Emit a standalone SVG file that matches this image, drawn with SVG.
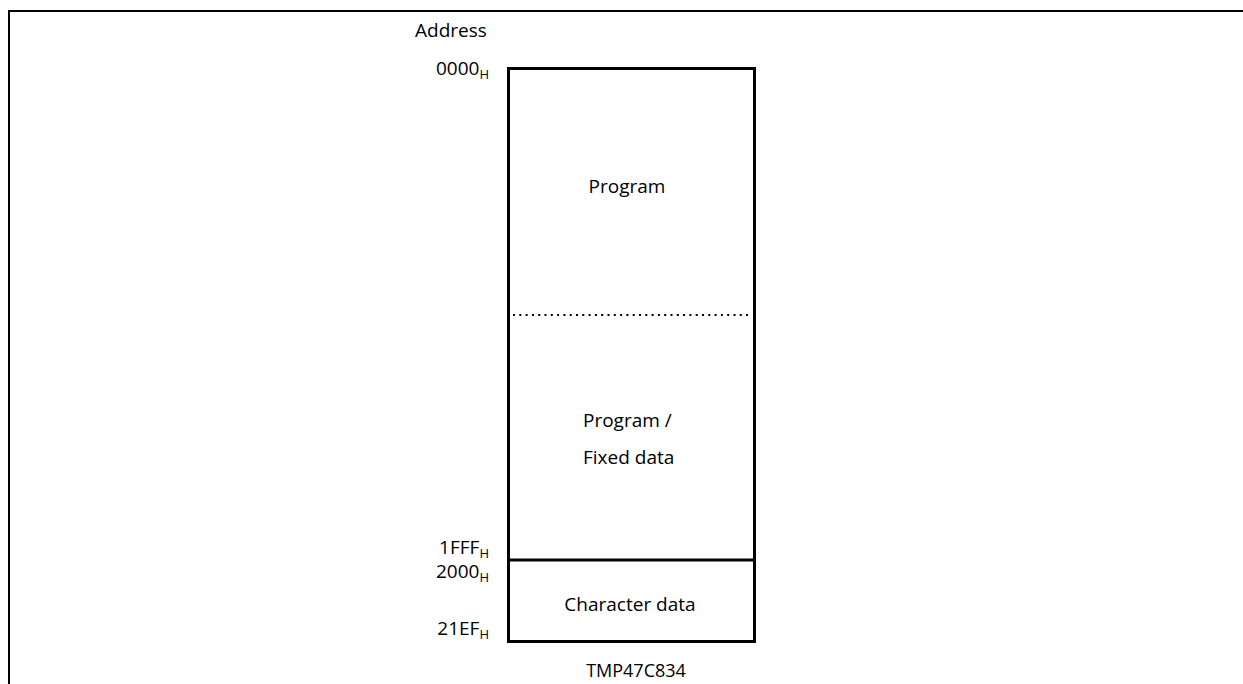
<svg xmlns="http://www.w3.org/2000/svg" width="1243" height="684" viewBox="0 0 1243 684">
  <style>
    .lbl { font-family: "Open Sans", "Liberation Sans", sans-serif; font-size: 19px; fill: #000; }
    .sub { font-size: 13px; }
    .frame { fill: none; stroke: #000; stroke-width: 2; }
    .box { fill: #fff; stroke: #000; stroke-width: 3; }
    .div { stroke: #000; stroke-width: 3; }
    .dot { stroke: #000; stroke-width: 2; stroke-dasharray: 2 4.3; }
  </style>
  <rect width="1243" height="684" fill="#fff"/>

  <!-- page frame (top and left rules) -->
  <path class="frame" d="M9 684 V11 H1243"/>

  <text class="lbl" x="415" y="37">Address</text>

  <!-- memory map -->
  <g id="memory-map">
    <rect class="box" x="508.5" y="68.5" width="246" height="573"/>
    <line class="dot" x1="513" y1="315" x2="752" y2="315"/>
    <line class="div" x1="507" y1="560" x2="756" y2="560"/>
  </g>

  <g id="region-program">
    <text class="lbl" x="627" y="193" text-anchor="middle">Program</text>
  </g>

  <g id="region-fixed-data">
    <text class="lbl" x="583" y="427">Program /</text>
    <text class="lbl" x="583" y="464">Fixed data</text>
  </g>

  <g id="region-character-data">
    <text class="lbl" x="630" y="611" text-anchor="middle">Character data</text>
  </g>

  <!-- address labels -->
  <g id="addresses">
    <text class="lbl" x="489" y="75" text-anchor="end">0000<tspan class="sub" dy="4">H</tspan></text>
    <text class="lbl" x="489" y="554" text-anchor="end">1FFF<tspan class="sub" dy="4">H</tspan></text>
    <text class="lbl" x="489" y="578" text-anchor="end">2000<tspan class="sub" dy="4">H</tspan></text>
    <text class="lbl" x="489" y="635" text-anchor="end">21EF<tspan class="sub" dy="4">H</tspan></text>
  </g>

  <text class="lbl" x="636" y="677" text-anchor="middle" style="font-size:18px">TMP47C834</text>
  <g id="connectors"/>
</svg>
